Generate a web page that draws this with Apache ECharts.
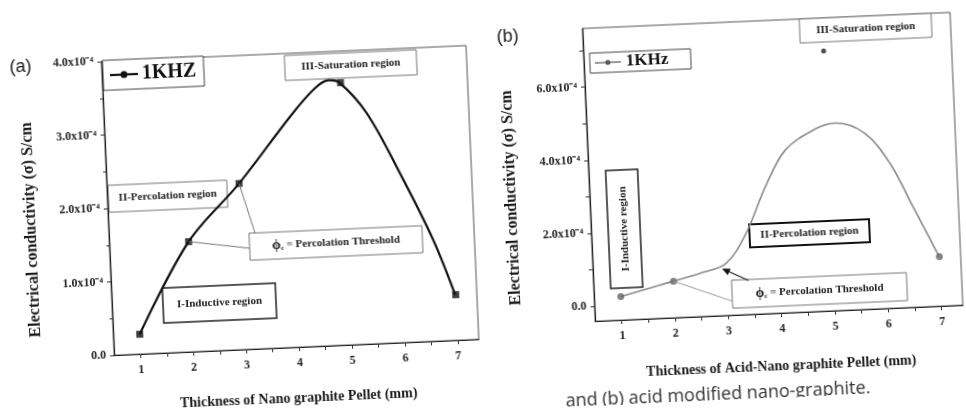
<!DOCTYPE html>
<html>
<head>
<meta charset="utf-8">
<script src="https://cdn.jsdelivr.net/npm/echarts@6/dist/echarts.min.js"></script>
<style>
  html, body { margin: 0; padding: 0; background: #fff; overflow: hidden; }
  #chart { width: 966px; height: 411px; transform: rotate(-2.5deg); transform-origin: 483px 205.5px; }
</style>
</head>
<body>
<div id="chart"></div>
<script>
// ---- Panel (a): nano-graphite pellets, 1 kHz ----
const thicknessA = [1, 2, 3, 5, 7];
const conductivityA = [0.27, 1.50, 2.26, 3.57, 0.62];
// fitted curve through the measurements (a)
const curveXA = [1, 2, 3, 4.02, 4.48, 4.77, 4.98, 5.47, 6.05, 6.62, 6.99];
const curveYA = [0.27, 1.50, 2.26, 3.14, 3.49, 3.61, 3.57, 3.14, 2.30, 1.38, 0.62];

// ---- Panel (b): acid-modified nano-graphite pellets, 1 kHz ----
const thicknessB = [1, 2, 7];
const conductivityB = [0.24, 0.60, 0.95];
const saturationXB = [5];
const saturationYB = [6.7];
// fitted curve (b)
const curveXB = [1, 2, 2.5, 3, 3.4, 3.8, 4.2, 4.75, 5.15, 5.7, 6.15, 6.55, 7];
const curveYB = [0.24, 0.60, 0.78, 1.02, 1.82, 3.07, 4.04, 4.56, 4.72, 4.41, 3.56, 2.34, 0.95];

// ---- tick labels ----
const xTicks = [1, 2, 3, 4, 5, 6, 7];
const yTicksA = [0, 1, 2, 3, 4];
const yTicksB = [0, 2, 4, 6];

const serif = 'Liberation Serif';
const pairs = (xs, ys) => xs.map((x, i) => [x, ys[i]]);
const fmtY = v => (v === 0 ? '0.0' : v.toFixed(1) + 'x10\u207B\u2074');
const xHalfTicks = xTicks.flatMap(v => (v < 7 ? [v, v + 0.5] : [v]));
const yUnitTicksB = yTicksB.flatMap(v => [v, v + 1]);

const tickLabel = { fontFamily: serif, fontWeight: 'bold', fontSize: 12, color: '#222' };
const axisName = { fontFamily: serif, fontWeight: 'bold', fontSize: 14, color: '#1a1a1a' };

function xAxisOf(grid, name, gap) {
  return {
    gridIndex: grid, type: 'value', min: 0.5, max: 7.4,
    name: name, nameLocation: 'middle', nameGap: gap, nameTextStyle: axisName,
    axisLine: { onZero: false, lineStyle: { color: '#222', width: 1.2 } },
    axisTick: { customValues: xHalfTicks, length: 4, lineStyle: { color: '#333' } },
    axisLabel: Object.assign({ customValues: xTicks, margin: 10, formatter: v => String(Math.round(v)) }, tickLabel),
    splitLine: { show: false }
  };
}

function box(x, y, w, h, text, o) {
  o = o || {};
  return {
    type: 'group', x: x, y: y, z: 50,
    children: [
      { type: 'rect', shape: { x: 0, y: 0, width: w, height: h },
        style: { fill: '#fff', stroke: o.stroke || '#555', lineWidth: o.lw || 1 } },
      { type: 'text', x: w / 2, y: h / 2, rotation: o.rot || 0,
        style: { text: text, fill: '#222', font: 'bold ' + (o.size || 11) + 'px ' + serif,
                 align: 'center', verticalAlign: 'middle',
                 rich: { p: { fontSize: 14, fontWeight: 'bold', fontFamily: serif },
                         s: { fontSize: 7, fontWeight: 'bold', fontFamily: serif, padding: [6, 0, 0, 0] } } } }
    ]
  };
}

function legendSample(x, y, w, h, label, o) {
  const cy = h / 2;
  return {
    type: 'group', x: x, y: y, z: 50,
    children: [
      { type: 'rect', shape: { x: 0, y: 0, width: w, height: h }, style: { fill: '#fff', stroke: '#444', lineWidth: 1 } },
      { type: 'line', shape: { x1: o.l1, y1: cy, x2: o.l2, y2: cy }, style: { stroke: o.color, lineWidth: o.lw } },
      { type: 'circle', shape: { cx: (o.l1 + o.l2) / 2, cy: cy, r: o.r }, style: { fill: o.color } },
      { type: 'text', x: o.tx, y: cy, style: { text: label, fill: '#111', font: 'bold ' + o.size + 'px ' + serif, verticalAlign: 'middle' } }
    ]
  };
}

const chart = echarts.init(document.getElementById('chart'));

chart.setOption({
  animation: false,
  backgroundColor: '#fff',
  grid: [
    { left: 108, top: 45, width: 365, height: 294, show: true, borderColor: '#555', borderWidth: 1 },
    { left: 590, top: 33, width: 368, height: 293, show: true, borderColor: '#555', borderWidth: 1 }
  ],
  xAxis: [
    xAxisOf(0, 'Thickness of Nano graphite Pellet (mm)', 44),
    xAxisOf(1, 'Thickness of Acid-Nano graphite Pellet (mm)', 46)
  ],
  yAxis: [
    { gridIndex: 0, type: 'value', min: 0, max: 4, interval: 1,
      axisLine: { show: true, lineStyle: { color: '#222', width: 1.2 } },
      axisTick: { show: true, length: 4, lineStyle: { color: '#333' } },
      minorTick: { show: true, splitNumber: 2, length: 3, lineStyle: { color: '#333' } },
      axisLabel: Object.assign({ customValues: yTicksA, formatter: fmtY, margin: 8 }, tickLabel),
      splitLine: { show: false } },
    { gridIndex: 1, type: 'value', min: -0.4, max: 7.6,
      axisLine: { show: true, onZero: false, lineStyle: { color: '#222', width: 1.2 } },
      axisTick: { show: true, customValues: yUnitTicksB, length: 4, lineStyle: { color: '#333' } },
      axisLabel: Object.assign({ customValues: yTicksB, formatter: fmtY, margin: 8 }, tickLabel),
      splitLine: { show: false } }
  ],
  series: [
    { name: 'curve a', type: 'line', xAxisIndex: 0, yAxisIndex: 0, data: pairs(curveXA, curveYA),
      smooth: 0.35, symbol: 'none', lineStyle: { color: '#111', width: 2.2 }, z: 3 },
    { name: '1KHZ', type: 'scatter', xAxisIndex: 0, yAxisIndex: 0, data: pairs(thicknessA, conductivityA),
      symbol: 'rect', symbolSize: 7, itemStyle: { color: '#111' }, z: 4 },
    { name: 'curve b', type: 'line', xAxisIndex: 1, yAxisIndex: 1, data: pairs(curveXB, curveYB),
      smooth: 0.35, symbol: 'none', lineStyle: { color: '#8a8a8a', width: 1.6 }, z: 3 },
    { name: '1KHz', type: 'scatter', xAxisIndex: 1, yAxisIndex: 1, data: pairs(thicknessB, conductivityB),
      symbol: 'circle', symbolSize: 7, itemStyle: { color: '#666' }, z: 4 },
    { name: 'saturation b', type: 'scatter', xAxisIndex: 1, yAxisIndex: 1, data: pairs(saturationXB, saturationYB),
      symbol: 'circle', symbolSize: 5, itemStyle: { color: '#222' }, z: 4 }
  ]
});

// leader lines start at the measured points
const pA2 = chart.convertToPixel({ gridIndex: 0 }, [thicknessA[1], conductivityA[1]]);
const pA3 = chart.convertToPixel({ gridIndex: 0 }, [thicknessA[2], conductivityA[2]]);
const pB2 = chart.convertToPixel({ gridIndex: 1 }, [thicknessB[1], conductivityB[1]]);

function arrow(x1, y1, x2, y2) {
  const dx = x2 - x1, dy = y2 - y1, len = Math.hypot(dx, dy);
  const ux = dx / len, uy = dy / len, bx = x2 - ux * 8, by = y2 - uy * 8;
  return [
    { type: 'line', z: 60, shape: { x1: x1, y1: y1, x2: bx, y2: by }, style: { stroke: '#222', lineWidth: 1.2 } },
    { type: 'polygon', z: 60, shape: { points: [[x2, y2], [bx - uy * 3.5, by + ux * 3.5], [bx + uy * 3.5, by - ux * 3.5]] },
      style: { fill: '#111' } }
  ];
}

const phiText = '{p|\u03D5}{s|c} = Percolation Threshold';

chart.setOption({
  graphic: [
    // panel (a)
    { type: 'text', x: 16, y: 47, style: { text: '(a)', font: '18px Liberation Sans', fill: '#222', verticalAlign: 'middle' } },
    { type: 'text', x: 31, y: 210, rotation: Math.PI / 2,
      style: { text: 'Electrical conductivity (\u03C3) S/cm', font: 'bold 16px ' + serif, fill: '#1a1a1a', align: 'center', verticalAlign: 'middle' } },
    legendSample(109, 44, 101, 30, '1KHZ', { l1: 7, l2: 35, color: '#111', lw: 2.2, r: 3.5, tx: 39, size: 20 }),
    box(291, 47, 132, 25, 'III-Saturation region', { stroke: '#777' }),
    box(109, 169, 119, 27, 'II-Percolation region', { stroke: '#777' }),
    box(248, 223, 173, 27, phiText, { stroke: '#777' }),
    box(159, 274, 113, 35, 'I-Inductive region', { stroke: '#222', lw: 1.5 }),
    { type: 'line', z: 40, shape: { x1: pA2[0], y1: pA2[1], x2: 248, y2: 238 }, style: { stroke: '#777', lineWidth: 1 } },
    { type: 'line', z: 40, shape: { x1: pA3[0], y1: pA3[1], x2: 254, y2: 223 }, style: { stroke: '#777', lineWidth: 1 } },

    // panel (b)
    { type: 'text', x: 504, y: 38, style: { text: '(b)', font: '18px Liberation Sans', fill: '#222', verticalAlign: 'middle' } },
    { type: 'text', x: 512, y: 199, rotation: Math.PI / 2,
      style: { text: 'Electrical conductivity (\u03C3) S/cm', font: 'bold 16px ' + serif, fill: '#1a1a1a', align: 'center', verticalAlign: 'middle' } },
    legendSample(596, 58, 101, 20, '1KHz', { l1: 5, l2: 31, color: '#555', lw: 1.2, r: 2.5, tx: 36, size: 17 }),
    box(807, 33, 132, 24, 'III-Saturation region', { stroke: '#777' }),
    box(607, 176, 32, 118, 'I-Inductive region', { stroke: '#222', lw: 1.5, rot: Math.PI / 2 }),
    box(748, 236, 120, 23, 'II-Percolation region', { stroke: '#111', lw: 2 }),
    box(728, 291, 175, 28, phiText, { stroke: '#777' }),
    { type: 'line', z: 40, shape: { x1: pB2[0], y1: pB2[1], x2: 728, y2: 312 }, style: { stroke: '#999', lineWidth: 1 } }
  ].concat(arrow(745, 292, 719, 279), [
    // caption fragment, partly clipped by the page edge
    { type: 'text', x: 557, y: 396, style: { text: 'and (b) acid modified nano-graphite.', font: '18px Open Sans', fill: '#333' } }
  ])
});
</script>
</body>
</html>
